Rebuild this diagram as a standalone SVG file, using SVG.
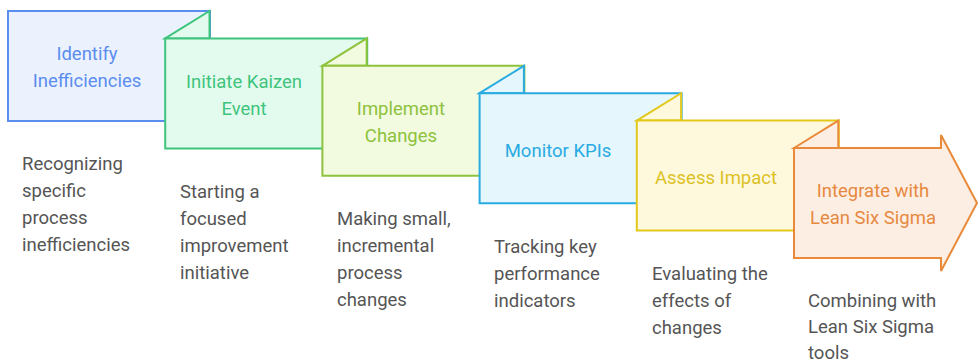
<svg xmlns="http://www.w3.org/2000/svg" width="979" height="364" viewBox="0 0 979 364">
<style>
.box{stroke-width:2;stroke-linejoin:miter}
.t{font-family:Roboto,"Liberation Sans",sans-serif;font-size:18.5px;text-anchor:middle}
.d{font-family:Roboto,"Liberation Sans",sans-serif;font-size:18.5px;fill:#555555}
.c1{fill:#ebf2fe;stroke:#5b8def}.k1{fill:#5b8def}
.c2{fill:#e3fbee;stroke:#3ec47c}.k2{fill:#3ec47c}
.c3{fill:#f2fbdf;stroke:#8dc23c}.k3{fill:#8dc23c}
.c4{fill:#e5f6fd;stroke:#29abe2}.k4{fill:#29abe2}
.c5{fill:#fef9dc;stroke:#e3c81c}.k5{fill:#dcc125}
.c6{fill:#fdeee3;stroke:#e98a3a}.k6{fill:#e6893f}
</style>
<rect width="979" height="364" fill="#ffffff"/>
<g id="node1">
<path class="box c1" d="M8,11 H210 V121 H8 Z"/>
<text class="t k1" x="87" y="60">Identify</text>
<text class="t k1" x="87" y="87">Inefficiencies</text>
</g>
<g id="node2">
<path class="box c2" d="M165.2,38.4 L209.5,11 V38.4 Z"/>
<path class="box c2" d="M165.2,38.4 H367.2 V148.4 H165.2 Z"/>
<text class="t k2" x="244" y="88">Initiate Kaizen</text>
<text class="t k2" x="244" y="115">Event</text>
</g>
<g id="node3">
<path class="box c3" d="M322.4,65.8 L366.7,38.4 V65.8 Z"/>
<path class="box c3" d="M322.4,65.8 H524.4 V175.8 H322.4 Z"/>
<text class="t k3" x="401" y="115">Implement</text>
<text class="t k3" x="401" y="142">Changes</text>
</g>
<g id="node4">
<path class="box c4" d="M479.6,93.2 L523.9,65.8 V93.2 Z"/>
<path class="box c4" d="M479.6,93.2 H681.6 V203.2 H479.6 Z"/>
<text class="t k4" x="558" y="157">Monitor KPIs</text>
</g>
<g id="node5">
<path class="box c5" d="M636.8,120.6 L681.1,93.2 V120.6 Z"/>
<path class="box c5" d="M636.8,120.6 H838.8 V230.6 H636.8 Z"/>
<text class="t k5" x="716" y="184">Assess Impact</text>
</g>
<g id="node6">
<path class="box c6" d="M794,148 L838.3,120.6 V148 Z"/>
<path class="box c6" d="M794,148 H941 V135 L977,203 L941,271 V258 H794 Z"/>
<text class="t k6" x="873" y="197">Integrate with</text>
<text class="t k6" x="873" y="224">Lean Six Sigma</text>
</g>
<g id="connectors"></g>
<g id="descriptions">
<text class="d" x="22" y="170">Recognizing</text>
<text class="d" x="22" y="197">specific</text>
<text class="d" x="22" y="224">process</text>
<text class="d" x="22" y="251">inefficiencies</text>
<text class="d" x="180" y="198">Starting a</text>
<text class="d" x="180" y="225">focused</text>
<text class="d" x="180" y="252">improvement</text>
<text class="d" x="180" y="279">initiative</text>
<text class="d" x="337" y="225">Making small,</text>
<text class="d" x="337" y="252">incremental</text>
<text class="d" x="337" y="279">process</text>
<text class="d" x="337" y="306">changes</text>
<text class="d" x="494" y="253">Tracking key</text>
<text class="d" x="494" y="280">performance</text>
<text class="d" x="494" y="307">indicators</text>
<text class="d" x="652" y="280">Evaluating the</text>
<text class="d" x="652" y="307">effects of</text>
<text class="d" x="652" y="334">changes</text>
<text class="d" x="808" y="307">Combining with</text>
<text class="d" x="808" y="333">Lean Six Sigma</text>
<text class="d" x="808" y="359">tools</text>
</g>
</svg>
